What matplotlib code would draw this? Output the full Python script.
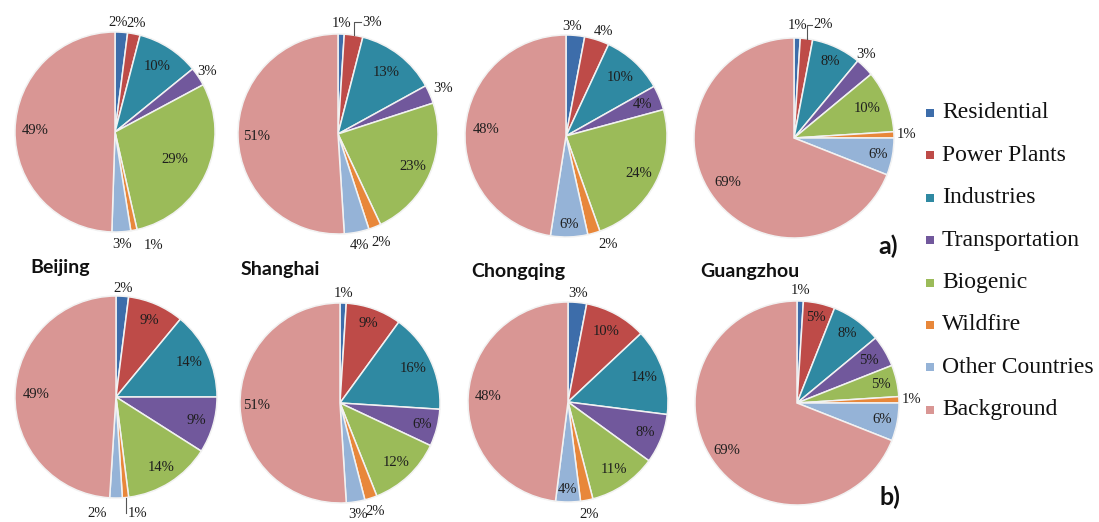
import numpy as np
import matplotlib
matplotlib.use("Agg")
import matplotlib.pyplot as plt
from matplotlib.patches import Rectangle

# ---------------------------------------------------------------- data
sources = ["Residential", "Power Plants", "Industries", "Transportation",
           "Biogenic", "Wildfire", "Other Countries", "Background"]
cities = ["Beijing", "Shanghai", "Chongqing", "Guangzhou"]

# source contributions (%), case a)
beijing_a = [2, 2, 10, 3, 29, 1, 3, 49]
shanghai_a = [1, 3, 13, 3, 23, 2, 4, 51]
chongqing_a = [3, 4, 10, 4, 24, 2, 6, 48]
guangzhou_a = [1, 2, 8, 3, 10, 1, 6, 69]

# source contributions (%), case b)
beijing_b = [2, 9, 14, 9, 14, 1, 2, 49]
shanghai_b = [1, 9, 16, 6, 12, 2, 3, 51]
chongqing_b = [3, 10, 14, 8, 11, 2, 4, 48]
guangzhou_b = [1, 5, 8, 5, 5, 1, 6, 69]

# ---------------------------------------------------------------- style
colors = ["#3D6DAA", "#BE4B48", "#2F89A2", "#71589C",
          "#9BBB59", "#E8873A", "#95B3D7", "#D99694"]
label_color = "#1e1e1e"
serif = "Liberation Serif"
sans = "Lato"

W, H = 1099, 522
fig = plt.figure(figsize=(W / 100, H / 100), dpi=100)
fig.patch.set_facecolor("white")

# panel layout: centre and radius in pixels, radial position of each
# wedge label, clockwise angular nudges (deg) and wedges with leader lines
panels = [
    dict(values=beijing_a, center=(115, 132), radius=100,
         label_r=[1.10, 1.11, 0.78, 1.10, 0.66, 1.20, 1.13, 0.80],
         nudge={0: -2, 5: -8}, leaders=[]),
    dict(values=shanghai_a, center=(338, 134), radius=100,
         label_r=[1.11, 1.17, 0.78, 1.14, 0.81, 1.17, 1.14, 0.81],
         nudge={1: 8}, leaders=[1]),
    dict(values=chongqing_a, center=(566, 136), radius=101,
         label_r=[1.09, 1.10, 0.79, 0.82, 0.81, 1.15, 0.88, 0.79],
         nudge={0: -2, 1: 2, 5: -5}, leaders=[]),
    dict(values=guangzhou_a, center=(794, 138), radius=100,
         label_r=[1.13, 1.17, 0.85, 1.10, 0.79, 1.13, 0.86, 0.80],
         nudge={1: 7, 3: -4}, leaders=[1]),
    dict(values=beijing_b, center=(116, 397), radius=101,
         label_r=[1.08, 0.83, 0.80, 0.83, 0.83, 1.17, 1.17, 0.79],
         nudge={5: -5, 6: 9}, leaders=[5]),
    dict(values=shanghai_b, center=(340, 403), radius=100,
         label_r=[1.10, 0.85, 0.81, 0.85, 0.82, 1.14, 1.13, 0.83],
         nudge={}, leaders=[]),
    dict(values=chongqing_b, center=(568, 402), radius=100,
         label_r=[1.09, 0.80, 0.80, 0.83, 0.82, 1.15, 0.88, 0.80],
         nudge={}, leaders=[]),
    dict(values=guangzhou_b, center=(797, 403), radius=102,
         label_r=[1.10, 0.86, 0.84, 0.82, 0.84, 1.12, 0.85, 0.83],
         nudge={}, leaders=[]),
]

for p in panels:
    cx, cy = p["center"]
    r = p["radius"]
    ax = fig.add_axes([(cx - r) / W, 1 - (cy + r) / H, 2 * r / W, 2 * r / H])
    wedges, _ = ax.pie(p["values"], colors=colors, startangle=90,
                       counterclock=False, radius=1.0,
                       wedgeprops=dict(edgecolor="#f2f2f2", linewidth=1.1))
    ax.set_xlim(-1, 1)
    ax.set_ylim(-1, 1)
    ax.set_aspect("equal")
    ax.axis("off")
    for i, (w, v) in enumerate(zip(wedges, p["values"])):
        mid = np.deg2rad((w.theta1 + w.theta2) / 2)
        ang = mid - np.deg2rad(p["nudge"].get(i, 0))
        lr = p["label_r"][i]
        xl, yl = lr * np.cos(ang), lr * np.sin(ang)
        ax.text(xl, yl, f"{v}%", ha="center", va="center",
                fontsize=10.5, family=serif, color=label_color,
                clip_on=False)
        if i in p["leaders"]:
            x0, y0 = np.cos(mid), np.sin(mid)
            side = 1 if xl >= x0 else -1
            ax.plot([x0, x0, xl - side * 0.11], [y0, yl, yl],
                    color="#555555", lw=0.8, clip_on=False)

# city names between the two rows
city_pos = [(30, 268), (241, 269), (471, 271), (700, 271)]
for name, (x, y) in zip(cities, city_pos):
    fig.text(x / W, 1 - y / H, name, ha="left", va="center",
             fontsize=14, fontweight="bold", family=sans, color="#111111")

# panel tags
fig.text(888 / W, 1 - 246 / H, "a)", ha="center", va="center",
         fontsize=18, fontweight="bold", family=sans, color="#111111")
fig.text(890 / W, 1 - 497 / H, "b)", ha="center", va="center",
         fontsize=18, fontweight="bold", family=sans, color="#111111")

# legend
leg_y0, leg_dy = 113, 42.4
for k, (name, c) in enumerate(zip(sources, colors)):
    y = leg_y0 + k * leg_dy
    fig.patches.append(Rectangle(((926) / W, 1 - (y + 4) / H), 8 / W, 8 / H,
                                 transform=fig.transFigure, facecolor=c,
                                 edgecolor="none"))
    fig.text(942 / W, 1 - y / H, name, ha="left", va="center",
             fontsize=17, family=serif, color="#111111")

fig.savefig("out.png", dpi=100, facecolor="white")
